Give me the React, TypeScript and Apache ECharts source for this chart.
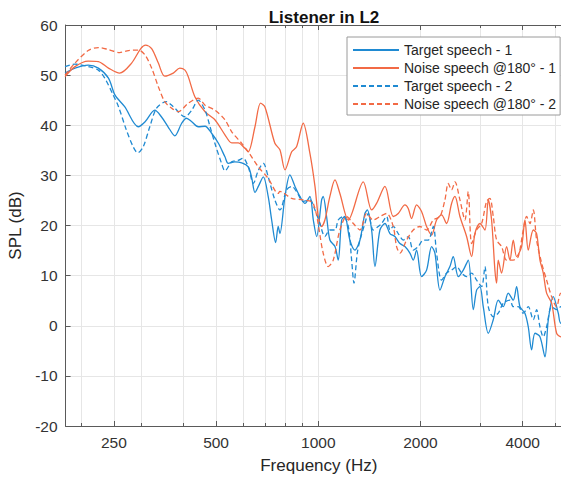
import React, { useEffect, useRef } from "react";
import * as echarts from "echarts";

// ---- Data (frequency in Hz, level in dB SPL) ----
const T1_FREQ = [179.5,192,210,225,241,252,269,295,309,330,345,361,378,396,409,424,443,464,485,508,531,543,568,595,622,636,651,666,689,712,729,749,762,771,798,825,854,883,914,945,967,989,1023,1034,1058,1082,1120,1145,1172,1198,1239,1282,1327,1372,1394,1436,1469,1519,1572,1626,1682,1740,1800,1862,1905,1948,2015,2085,2157,2206,2283,2361,2442,2498,2585,2674,2766,2862,2927,2994,3062,3168,3277,3390,3507,3628,3753,3839,3927,4062,4155,4250,4348,4498,4653,4760,4924,5094,5186,5500];
const T1_SPL = [50.4,51.4,52.0,51.4,49.4,46.0,43.7,39.7,40.7,43.0,41.7,39.7,37.9,40.4,41.4,40.7,39.7,39.8,38.4,36.4,33.7,32.4,32.7,32.5,31.7,29.7,26.6,27.8,29.7,25.8,21.1,16.6,19.8,18.4,25.8,30.1,27.8,25.8,24.4,25.8,21.1,17.8,25.1,25.8,21.8,17.1,15.8,13.1,21.1,21.8,17.1,15.1,17.1,22.4,23.1,19.1,11.8,19.1,20.4,18.4,17.8,16.4,15.8,14.5,13.1,15.1,9.8,11.1,15.8,14.5,7.1,9.8,11.8,13.8,9.8,11.1,13.1,3.2,7.1,7.8,3.8,-1.5,1.2,5.1,3.8,6.5,5.1,7.8,3.8,2.5,-0.2,-4.8,-1.5,-2.2,-6.2,1.2,5.8,2.5,0.5,0.8];

const N1_FREQ = [179.5,192,210,225,241,260,282,300,310,323,338,353,374,391,405,414,433,464,496,531,556,581,608,622,651,676,697,745,771,798,835,863,903,945,978,1000,1023,1046,1082,1120,1158,1226,1357,1436,1485,1572,1663,1720,1800,1841,1883,1948,2015,2085,2157,2231,2308,2388,2470,2527,2614,2735,2830,2894,2994,3097,3168,3240,3314,3352,3390,3467,3587,3669,3753,3839,3971,4062,4155,4299,4397,4498,4601,4706,4869,5036,5186,5500];
const N1_SPL = [49.7,51.7,52.8,52.7,51.4,50.4,52.4,55.3,56.0,55.3,52.4,49.8,50.4,51.4,51.0,49.7,45.7,42.7,41.1,38.1,36.5,36.5,35.4,34.7,39.7,44.4,43.6,36.4,35.1,31.1,34.7,35.7,40.4,34.4,27.8,21.8,19.8,21.1,25.8,29.1,26.4,21.1,28.7,23.1,24.4,27.8,21.8,22.4,24.1,23.4,21.4,24.1,22.8,19.8,18.1,21.1,22.1,20.4,24.4,25.8,21.8,17.8,13.8,18.4,20.4,19.1,25.1,21.1,11.1,8.5,13.1,10.5,15.8,13.1,17.1,13.8,15.8,21.1,15.1,19.1,18.4,13.1,10.5,6.5,4.5,-1.5,-2.2,-2.0];

const T2_FREQ = [179.5,192,210,225,235,249,258,272,285,294,305,319,334,357,374,405,424,443,464,480,496,519,531,556,581,601,622,644,666,689,712,745,771,807,835,863,903,945,978,1011,1046,1082,1120,1145,1185,1226,1254,1274,1303,1327,1372,1404,1452,1502,1537,1590,1626,1663,1720,1780,1841,1905,1970,2038,2109,2182,2231,2308,2388,2470,2556,2644,2735,2830,2927,3028,3097,3168,3277,3390,3507,3669,3753,3882,4016,4155,4299,4397,4498,4601,4706,4869,5036,5186,5500];
const T2_SPL = [51.7,52.2,51.7,51.0,49.4,46.0,43.7,39.1,35.7,34.5,35.7,39.7,43.4,44.7,43.7,41.7,43.0,45.0,43.0,39.7,36.4,32.4,30.9,32.7,33.0,33.4,31.7,28.4,31.0,32.4,29.7,25.1,23.1,27.1,27.8,26.8,24.8,25.1,23.1,20.4,17.8,19.1,19.1,21.1,21.8,19.8,13.1,8.5,14.5,17.1,20.4,22.4,19.1,19.8,20.4,21.8,19.1,19.8,18.4,17.1,17.8,15.1,15.8,17.1,17.1,19.8,14.5,9.1,10.5,11.1,11.8,10.5,9.8,10.5,9.1,7.8,11.8,3.8,1.8,2.5,4.5,5.1,3.8,3.8,2.5,3.8,1.2,3.2,-0.2,-2.2,-0.2,3.8,3.2,3.8,3.0];

const N2_FREQ = [179.5,192,210,225,241,260,276,295,309,323,338,353,370,387,414,443,464,496,531,556,595,622,666,712,762,771,835,903,967,1034,1070,1107,1158,1212,1268,1327,1388,1452,1519,1590,1663,1701,1740,1821,1905,1993,2085,2182,2283,2361,2415,2470,2527,2614,2704,2766,2830,2927,3028,3132,3204,3277,3352,3467,3587,3753,3882,4016,4108,4203,4299,4397,4549,4706,4869,5036,5186,5500];
const N2_SPL = [50.0,52.4,54.9,55.5,55.1,54.5,54.9,55.0,54.0,51.4,47.7,44.7,43.4,42.7,44.4,45.4,44.0,43.0,41.1,38.7,36.4,34.7,31.7,29.4,26.4,26.8,25.4,25.1,24.4,14.5,11.8,13.1,19.1,21.8,20.4,19.1,22.4,21.1,21.8,22.4,19.8,15.8,14.5,17.1,19.1,19.8,19.1,21.1,21.8,25.1,28.4,27.1,28.7,25.1,21.1,26.8,16.4,19.1,20.4,24.8,25.4,21.8,17.1,15.8,13.1,13.1,13.8,19.1,21.8,20.4,23.1,17.1,12.5,9.1,5.8,3.8,6.5,5.0];

const SERIES_NAMES = [
  "Target speech - 1",
  "Noise speech @180° - 1",
  "Target speech - 2",
  "Noise speech @180° - 2",
];

const MAJOR_TICKS = [250, 500, 1000, 2000, 4000];
const MINOR_TICKS = [200, 300, 400, 600, 700, 800, 900, 3000, 5000];
const X_MIN = 180.2;
const X_MAX = 5590;
const Y_MIN = -20;
const Y_MAX = 60;
const Y_STEP = 10;

const BLUE = "#1f8ad2";
const ORANGE = "#f26a45";
const FONT = "'Liberation Sans', Arial, Helvetica, sans-serif";
const AXIS_COLOR = "#5a5a5a";
const GRID_COLOR = "#e6e6e6";

function zip(f: number[], v: number[]) {
  const n = Math.min(f.length, v.length);
  const out: number[][] = [];
  for (let i = 0; i < n; i++) out.push([f[i], v[i]]);
  return out;
}

export default function App() {
  const ref = useRef<HTMLDivElement>(null);

  useEffect(() => {
    if (!ref.current) return;
    const chart = echarts.init(ref.current, undefined, { renderer: "svg" });

    const xCommon = {
      type: "log",
      logBase: 2,
      min: X_MIN,
      max: X_MAX,
      gridIndex: 0,
    };

    const mkLine = (name: string, data: number[][], color: string, dashed: boolean) => ({
      name,
      type: "line",
      data,
      xAxisIndex: 0,
      yAxisIndex: 0,
      symbol: "none",
      showSymbol: false,
      smooth: 0.3,
      clip: true,
      lineStyle: { color, width: 1.3, type: dashed ? [5, 3] : "solid" },
      itemStyle: { color },
      z: 3,
    });

    const option: any = {
      animation: false,
      backgroundColor: "#ffffff",
      title: {
        text: "Listener in L2",
        left: 319,
        top: 4,
        textAlign: "center",
        textStyle: { fontSize: 17, fontWeight: "bold", color: "#111", fontFamily: FONT },
      },
      grid: {
        left: 65.6,
        top: 25,
        width: 506.4,
        height: 401,
        containLabel: false,
        outerBoundsMode: "none",
      },
      legend: {
        orient: "vertical",
        left: 347,
        top: 37,
        padding: [6, 4, 4, 5],
        itemWidth: 46,
        itemHeight: 14,
        itemGap: 4,
        backgroundColor: "#ffffff",
        borderColor: "#9a9a9a",
        borderWidth: 1,
        borderRadius: 0,
        itemStyle: { opacity: 0 },
        textStyle: { fontSize: 14, color: "#262626", fontFamily: FONT },
        data: SERIES_NAMES,
      },
      xAxis: [
        {
          ...xCommon,
          position: "bottom",
          name: "Frequency (Hz)",
          nameLocation: "middle",
          nameGap: 31,
          nameTextStyle: { fontSize: 17, color: "#262626", fontFamily: FONT },
          axisLine: { show: true, onZero: false, lineStyle: { color: AXIS_COLOR, width: 1 } },
          axisTick: { show: true, inside: true, length: 5, customValues: MAJOR_TICKS, lineStyle: { color: AXIS_COLOR } },
          axisLabel: {
            show: true,
            customValues: MAJOR_TICKS,
            fontSize: 15.5,
            color: "#333",
            fontFamily: FONT,
            margin: 8,
            formatter: (v: number) => String(Math.round(v)),
          },
          splitLine: { show: true, lineStyle: { color: GRID_COLOR, width: 1 } },
          minorTick: { show: false },
        },
        {
          ...xCommon,
          position: "bottom",
          axisLine: { show: false, onZero: false },
          axisTick: { show: true, inside: true, length: 3, customValues: MINOR_TICKS, lineStyle: { color: AXIS_COLOR } },
          axisLabel: { show: false },
          splitLine: { show: true, lineStyle: { color: GRID_COLOR, width: 1 } },
        },
        {
          ...xCommon,
          position: "top",
          axisLine: { show: true, onZero: false, lineStyle: { color: AXIS_COLOR, width: 1 } },
          axisTick: { show: true, inside: true, length: 5, customValues: MAJOR_TICKS, lineStyle: { color: AXIS_COLOR } },
          axisLabel: { show: false },
          splitLine: { show: false },
        },
        {
          ...xCommon,
          position: "top",
          axisLine: { show: false, onZero: false },
          axisTick: { show: true, inside: true, length: 3, customValues: MINOR_TICKS, lineStyle: { color: AXIS_COLOR } },
          axisLabel: { show: false },
          splitLine: { show: false },
        },
      ],
      yAxis: [
        {
          type: "value",
          min: Y_MIN,
          max: Y_MAX,
          interval: Y_STEP,
          position: "left",
          name: "SPL (dB)",
          nameLocation: "middle",
          nameGap: 32,
          nameTextStyle: { fontSize: 17, color: "#262626", fontFamily: FONT },
          axisLine: { show: true, onZero: false, lineStyle: { color: AXIS_COLOR, width: 1 } },
          axisTick: { show: true, inside: true, length: 5, lineStyle: { color: AXIS_COLOR } },
          axisLabel: { fontSize: 15.5, color: "#333", fontFamily: FONT, margin: 8 },
          splitLine: { show: true, lineStyle: { color: GRID_COLOR, width: 1 } },
        },
      ],
      series: [
        mkLine(SERIES_NAMES[0], zip(T1_FREQ, T1_SPL), BLUE, false),
        mkLine(SERIES_NAMES[1], zip(N1_FREQ, N1_SPL), ORANGE, false),
        mkLine(SERIES_NAMES[2], zip(T2_FREQ, T2_SPL), BLUE, true),
        mkLine(SERIES_NAMES[3], zip(N2_FREQ, N2_SPL), ORANGE, true),
      ],
    };

    chart.setOption(option);
    return () => chart.dispose();
  }, []);

  return (
    <div
      ref={ref}
      style={{ position: "fixed", left: 0, top: 0, width: 561, height: 477, background: "#fff" }}
    />
  );
}
